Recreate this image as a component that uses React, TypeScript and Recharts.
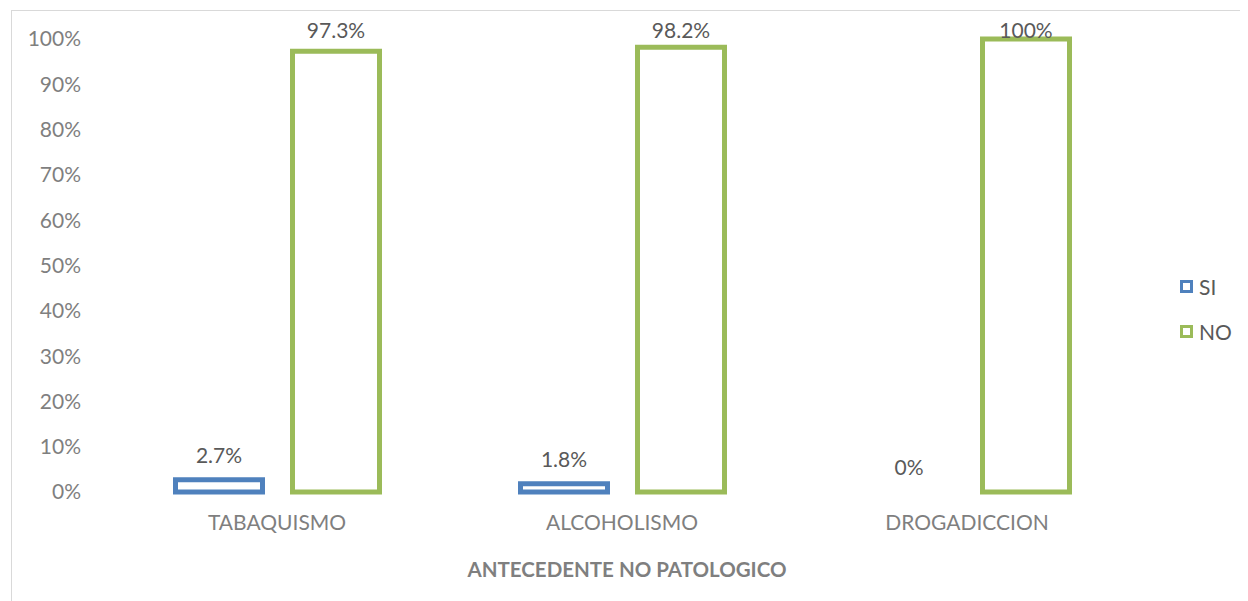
import React from 'react';
import { BarChart, Bar, XAxis, YAxis, LabelList, Legend, Label, Rectangle } from 'recharts';

const categories = ['TABAQUISMO', 'ALCOHOLISMO', 'DROGADICCION'];
const siValues = [2.7, 1.8, 0];
const noValues = [97.3, 98.2, 100];
const siLabels = ['2.7%', '1.8%', '0%'];
const noLabels = ['97.3%', '98.2%', '100%'];
const yTicks = [0, 10, 20, 30, 40, 50, 60, 70, 80, 90, 100];

const data = categories.map((c, i) => ({
  name: c,
  SI: siValues[i],
  NO: noValues[i],
}));

const FONT = 'Lato, "Open Sans", sans-serif';
const BLUE = '#4F81BD';
const GREEN = '#9BBB59';
const FS = 21;

const makeLabel = (labels: string[]) => (props: any) => {
  const { x, y, width, height, index } = props;
  const top = Math.min(Number(y), Number(y) + Number(height));
  const cy = Math.max(top - 25, 21);
  return (
    <text
      x={Number(x) + Number(width) / 2}
      y={cy}
      textAnchor="middle"
      dominantBaseline="central"
      fill="#595959"
      fontSize={FS}
      fontFamily={FONT}
    >
      {labels[index]}
    </text>
  );
};

const BarShape = (props: any) => {
  const { value } = props;
  const v = Array.isArray(value) ? value[1] - value[0] : value;
  if (!v) return null;
  return <Rectangle {...props} />;
};

const LegendContent = () => (
  <div style={{ fontFamily: FONT, fontSize: FS, color: '#595959' }}>
    {[
      { name: 'SI', color: BLUE },
      { name: 'NO', color: GREEN },
    ].map((it, i) => (
      <div
        key={it.name}
        style={{ display: 'flex', alignItems: 'center', height: 26, marginBottom: i === 0 ? 19 : 0 }}
      >
        <span
          style={{
            display: 'inline-block',
            width: 7,
            height: 7,
            border: `3px solid ${it.color}`,
            background: '#fff',
            marginRight: 6,
          }}
        />
        <span>{it.name}</span>
      </div>
    ))}
  </div>
);

export default function App() {
  return (
    <div style={{ position: 'relative', width: 1240, height: 593, overflow: 'hidden', background: '#fff' }}>
      <div
        style={{
          position: 'absolute',
          left: 3,
          top: 2,
          width: 1400,
          height: 800,
          border: '1px solid #D9D9D9',
          boxSizing: 'border-box',
        }}
      />
      <div style={{ position: 'absolute', left: 0, top: 0 }}>
        <BarChart
          width={1240}
          height={593}
          data={data}
          margin={{ top: 31, right: 108.5, bottom: 19, left: 0 }}
          barSize={87}
          barGap={30}
        >
          <XAxis
            dataKey="name"
            axisLine={false}
            tickLine={false}
            tickSize={6}
            tickMargin={17}
            height={90}
            tick={{ fill: '#7F7F7F', fontSize: FS, fontFamily: FONT }}
          >
            <Label
              value="ANTECEDENTE NO PATOLOGICO"
              position="insideBottom"
              offset={5}
              dx={5}
              fill="#7F7F7F"
              fontSize={20.5}
              fontWeight="bold"
              fontFamily={FONT}
            />
          </XAxis>
          <YAxis
            type="number"
            domain={[0, 100]}
            ticks={yTicks}
            interval={0}
            axisLine={false}
            tickLine={false}
            width={96.5}
            tickSize={6}
            tickMargin={17.5}
            tickFormatter={(v: number) => `${v}%`}
            tick={{ fill: '#7F7F7F', fontSize: FS, fontFamily: FONT }}
          />
          <Legend
            layout="vertical"
            align="center"
            verticalAlign="middle"
            content={<LegendContent />}
            wrapperStyle={{ left: 1172, top: 265, width: 66, height: 80 }}
          />
          <Bar
            dataKey="SI"
            fill="#FFFFFF"
            stroke={BLUE}
            strokeWidth={5}
            minPointSize={0.01}
            shape={<BarShape />}
            isAnimationActive={false}
          >
            <LabelList dataKey="SI" content={makeLabel(siLabels)} />
          </Bar>
          <Bar dataKey="NO" fill="#FFFFFF" stroke={GREEN} strokeWidth={5} isAnimationActive={false}>
            <LabelList dataKey="NO" content={makeLabel(noLabels)} />
          </Bar>
        </BarChart>
      </div>
    </div>
  );
}
